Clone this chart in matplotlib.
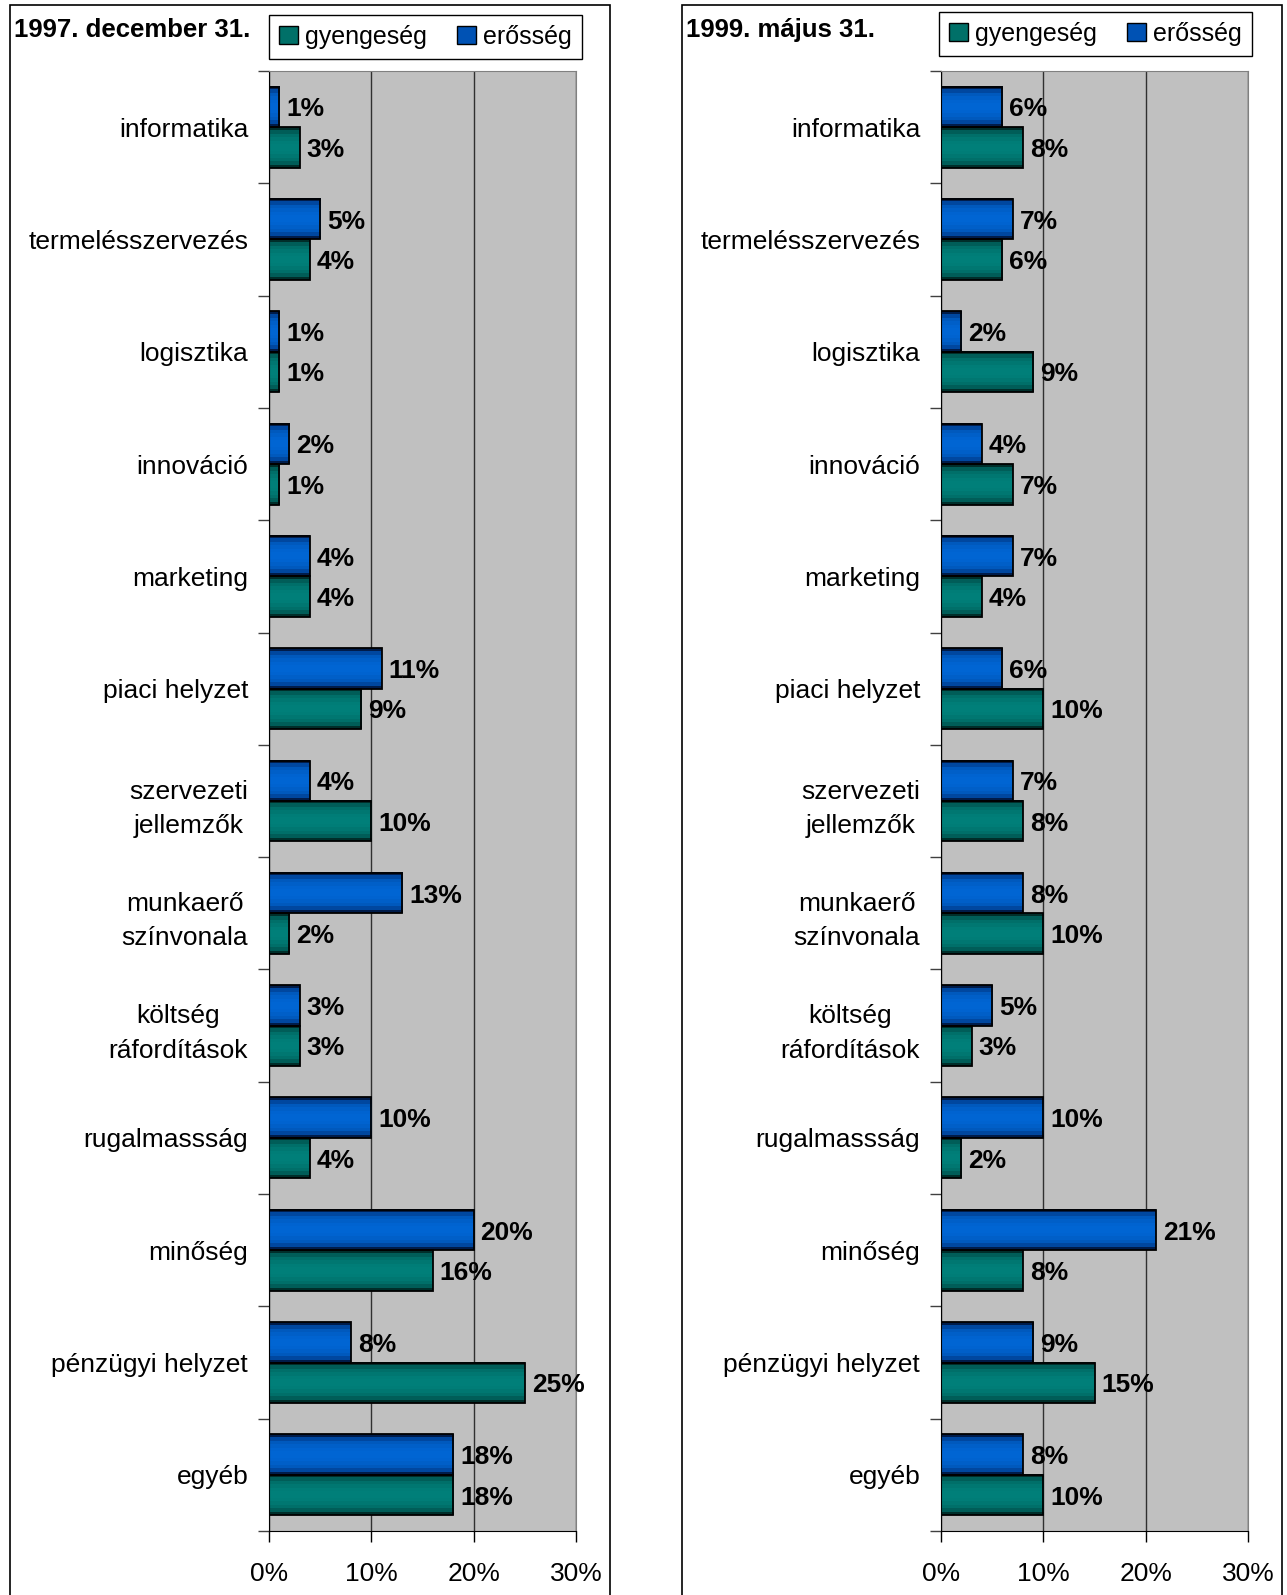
import numpy as np
import matplotlib
matplotlib.use("Agg")
import matplotlib.pyplot as plt
from matplotlib.colors import LinearSegmentedColormap
from matplotlib.patches import Patch, Rectangle

plt.rcParams['font.family'] = ['Liberation Sans', 'DejaVu Sans']

# data
categories = ["informatika", "termelésszervezés", "logisztika", "innováció",
              "marketing", "piaci helyzet", "szervezeti\njellemzők",
              "munkaerő\nszínvonala", "költség\nráfordítások", "rugalmassság",
              "minőség", "pénzügyi helyzet", "egyéb"]

strength_1997 = [1, 5, 1, 2, 4, 11, 4, 13, 3, 10, 20, 8, 18]
weakness_1997 = [3, 4, 1, 1, 4, 9, 10, 2, 3, 4, 16, 25, 18]

strength_1999 = [6, 7, 2, 4, 7, 6, 7, 8, 5, 10, 21, 9, 8]
weakness_1999 = [8, 6, 9, 7, 4, 10, 8, 10, 3, 2, 8, 15, 10]

titles = ["1997. december 31.", "1999. május 31."]
xticks = [0, 10, 20, 30]
xtick_labels = ["0%", "10%", "20%", "30%"]

W, H = 1287, 1595
fig = plt.figure(figsize=(W / 100, H / 100), dpi=100)

blue_cmap = LinearSegmentedColormap.from_list("b", ["#001c4a", "#003c8c", "#0058bc", "#0066d4"])
teal_cmap = LinearSegmentedColormap.from_list("t", ["#002e2a", "#00524e", "#006e68", "#00807a"])
t = np.linspace(0, 1, 12)
profile = (np.sin(np.pi * t) ** 0.6).reshape(-1, 1)


def gradient_bars(ax, bars, cmap):
    for p in bars:
        x, y, w, h = p.get_x(), p.get_y(), p.get_width(), p.get_height()
        ax.imshow(profile, extent=[x, x + w, y + h, y], aspect='auto',
                  cmap=cmap, vmin=0, vmax=1, zorder=2, interpolation='nearest')


def panel(left_px, box_px, legend_px, title_x, strength, weakness, title):
    ax = fig.add_axes([left_px / W, 1 - 1531 / H, 307 / W, (1531 - 71) / H])
    ax.set_facecolor('#c0c0c0')
    y = np.arange(len(categories))
    h = 0.36
    b1 = ax.barh(y - h / 2, strength, height=h, facecolor='none',
                 edgecolor='black', linewidth=1.3, zorder=3)
    b2 = ax.barh(y + h / 2, weakness, height=h, facecolor='none',
                 edgecolor='black', linewidth=1.3, zorder=3)
    gradient_bars(ax, b1, blue_cmap)
    gradient_bars(ax, b2, teal_cmap)

    for v, yy in zip(strength, y - h / 2):
        ax.annotate(f"{v}%", (v, yy), xytext=(5, 0), textcoords='offset points',
                    va='center_baseline', ha='left', fontsize=19, fontweight='bold', zorder=4)
    for v, yy in zip(weakness, y + h / 2):
        ax.annotate(f"{v}%", (v, yy), xytext=(5, 0), textcoords='offset points',
                    va='center_baseline', ha='left', fontsize=19, fontweight='bold', zorder=4)

    ax.set_xlim(0, 30)
    ax.set_ylim(len(categories) - 0.5, -0.5)
    ax.set_aspect('auto')
    ax.set_xticks(xticks)
    ax.set_xticklabels(xtick_labels, fontsize=19)
    ax.tick_params(axis='x', length=8, pad=14, width=1)
    ax.set_yticks(np.arange(len(categories) + 1) - 0.5)
    ax.set_yticklabels([])
    ax.tick_params(axis='y', which='major', length=8, width=1, color='#404040')
    ax.set_yticks(y, minor=True)
    ax.set_yticklabels(categories, minor=True, fontsize=19, linespacing=1.55)
    ax.tick_params(axis='y', which='minor', length=0, pad=15)
    for lab in ax.get_yticklabels(minor=True):
        lab.set_multialignment('center')
    ax.grid(axis='x', color='#303030', linewidth=1, zorder=1)
    ax.set_axisbelow(True)
    ax.spines['left'].set_color('black')
    ax.spines['bottom'].set_color('black')
    ax.spines['top'].set_color('#808080')
    ax.spines['right'].set_color('#808080')

    x0, x1 = box_px
    fig.patches.append(Rectangle((x0 / W, -0.01), (x1 - x0) / W, 1 - 5 / H + 0.01,
                                 transform=fig.transFigure, fill=False,
                                 edgecolor='black', linewidth=1.2))
    fig.text(title_x / W, 1 - 30 / H, title, fontsize=18.5, fontweight='bold',
             va='center', ha='left')

    lx0, ly0, lx1, ly1 = legend_px
    handles = [Patch(facecolor='#007068', edgecolor='black', label='gyengeség'),
               Patch(facecolor='#0052b4', edgecolor='black', label='erősség')]
    fig.legend(handles=handles, ncol=2, loc='center',
               bbox_to_anchor=((lx0 + lx1) / 2 / W, 1 - (ly0 + ly1) / 2 / H),
               fontsize=18, frameon=True, fancybox=False, edgecolor='black',
               framealpha=1, handlelength=0.75, handleheight=0.75,
               handletextpad=0.3, columnspacing=1.2, borderpad=0.4)
    return ax


panel(269, (10, 610), (270, 14, 581, 60), 14, strength_1997, weakness_1997, titles[0])
panel(941, (682, 1282), (940, 12, 1251, 56), 686, strength_1999, weakness_1999, titles[1])

fig.savefig("out.png", dpi=100, facecolor='white')
